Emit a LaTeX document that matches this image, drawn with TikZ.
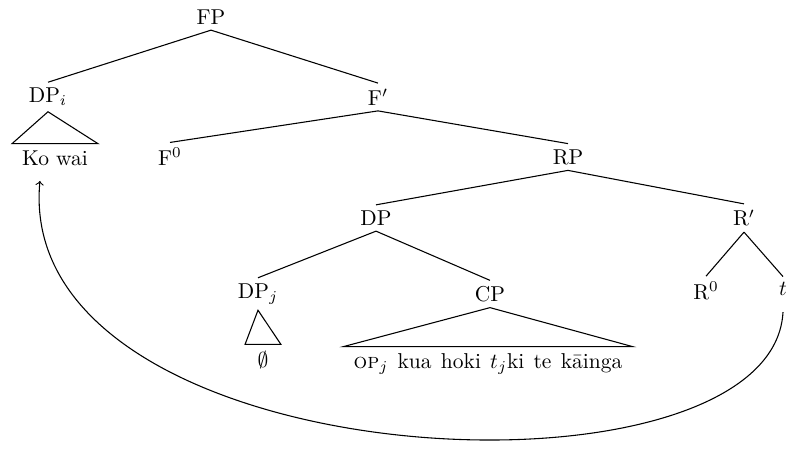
\documentclass[tikz,border=0pt]{standalone}
\begin{document}
\begin{tikzpicture}[x=0.465pt,y=-0.465pt,
  lab/.style={inner sep=2.5pt},
  leaf/.style={inner xsep=4.5pt, inner ysep=3pt},
  edge/.style={draw, line width=0.5pt}]
\useasboundingbox (0,0) rectangle (789,470);
\node[lab] (FP) at (211,17) {FP};
\node[lab] (DPi) at (48,97) {DP$_i$};
\node[lab] (Fb) at (378,97) {F$'$};
\node[leaf] (kowai) at (55,158) {Ko wai};
\node[lab] (F0) at (170,157) {F$^0$};
\node[lab] (RP) at (568,157) {RP};
\node[lab] (DP) at (376,218) {DP};
\node[lab] (Rb) at (744,218) {R$'$};
\node[lab] (DPj) at (258,294) {DP$_j$};
\node[lab] (CP) at (490,294) {CP};
\node[lab] (R0) at (706,291) {R$^0$};
\node[lab] (t) at (783,289) {$t$};
\node[inner ysep=3pt, minimum width=16.3pt] (empty) at (263,360) {$\emptyset$};
\node[leaf] (cptext) at (488,364) {\spaceskip=4.3pt \textsc{op}$_j$ kua hoki $t_j$ki te k\=ainga};

\draw[edge] (FP.south) -- (DPi.north);
\draw[edge] (FP.south) -- (Fb.north);
\draw[edge] (Fb.south) -- (F0.north);
\draw[edge] (Fb.south) -- (RP.north);
\draw[edge] (RP.south) -- (DP.north);
\draw[edge] (RP.south) -- (Rb.north);
\draw[edge] (DP.south) -- (DPj.north);
\draw[edge] (DP.south) -- (CP.north);
\draw[edge] (Rb.south) -- (R0.north);
\draw[edge] (Rb.south) -- (t.north);

\draw[edge] (DPi.south) -- (kowai.north west) -- (kowai.north east) -- cycle;
\draw[edge] (DPj.south) -- (empty.north west) -- (empty.north east) -- cycle;
\draw[edge] (CP.south) -- (cptext.north west) -- (cptext.north east) -- cycle;

\draw[edge,->] ([yshift=-5pt]t.south) .. controls (772,515) and (12,480) .. ([xshift=-7pt,yshift=-4pt]kowai.south);
\end{tikzpicture}
\end{document}
